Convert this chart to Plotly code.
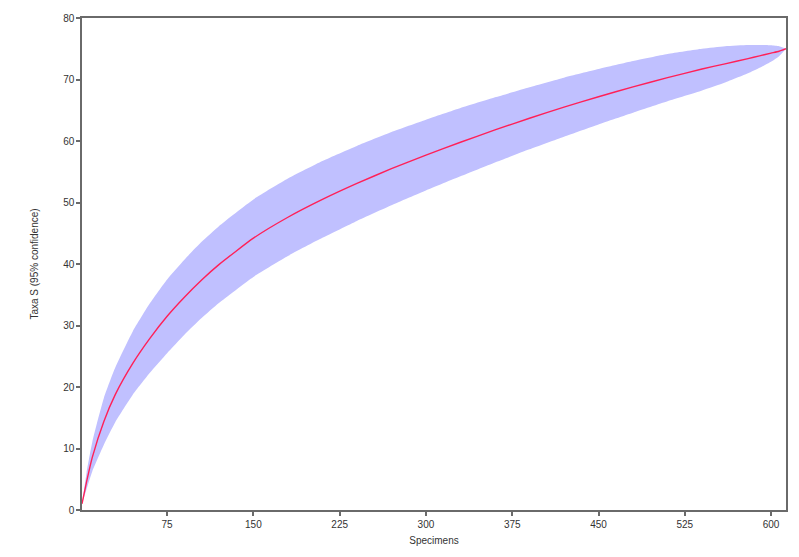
import plotly.graph_objects as go

specimens = [1, 5, 10, 20, 30, 45, 60, 75, 90, 105, 120, 150, 180, 210, 240, 270,
             300, 330, 360, 390, 420, 450, 480, 510, 540, 560, 580, 590, 600, 607, 613]
taxa_mean = [1.0, 4.6, 8.6, 14.4, 18.8, 23.8, 27.9, 31.5, 34.6, 37.4, 39.9, 44.2,
             47.6, 50.5, 53.1, 55.5, 57.7, 59.8, 61.8, 63.7, 65.5, 67.2, 68.8,
             70.3, 71.7, 72.55, 73.4, 73.85, 74.3, 74.6, 75.0]
taxa_upper = [1.0, 6.1, 11.1, 18.2, 23.2, 29.0, 33.6, 37.5, 40.7, 43.6, 46.15, 50.5,
              53.9, 56.75, 59.2, 61.45, 63.45, 65.35, 67.1, 68.75, 70.3, 71.7, 73.0,
              74.15, 75.0, 75.4, 75.6, 75.6, 75.55, 75.4, 75.0]
taxa_lower = [1.0, 3.4, 6.3, 10.6, 14.3, 18.7, 22.3, 25.5, 28.5, 31.2, 33.65, 37.9,
              41.3, 44.25, 47.0, 49.55, 51.95, 54.25, 56.5, 58.65, 60.7, 62.7, 64.6,
              66.45, 68.2, 69.5, 71.0, 71.9, 72.9, 73.8, 75.0]
x_ticks = [75, 150, 225, 300, 375, 450, 525, 600]
y_ticks = [0, 10, 20, 30, 40, 50, 60, 70, 80]

FONT = "Liberation Sans, Arial, sans-serif"

fig = go.Figure()
fig.add_trace(go.Scatter(x=specimens, y=taxa_lower, mode="lines",
                         line=dict(width=0, shape="spline", smoothing=0.5, color="rgba(0,0,0,0)"),
                         showlegend=False, hoverinfo="skip"))
fig.add_trace(go.Scatter(x=specimens, y=taxa_upper, mode="lines",
                         line=dict(width=0, shape="spline", smoothing=0.5, color="rgba(0,0,0,0)"),
                         fill="tonexty", fillcolor="#c0c0ff",
                         showlegend=False, hoverinfo="skip"))
fig.add_trace(go.Scatter(x=specimens, y=taxa_mean, mode="lines",
                         line=dict(width=1.4, color="#ff2058", shape="spline", smoothing=0.5),
                         showlegend=False))

axis_common = dict(showline=True, mirror=True, linecolor="#6a6a6a", linewidth=1.5,
                   ticks="outside", ticklen=4, tickcolor="#6a6a6a", tickwidth=1.5,
                   showgrid=False, zeroline=False,
                   tickfont=dict(family=FONT, size=10, color="#333"))

fig.update_xaxes(range=[1, 613], tickvals=x_ticks,
                 title=dict(text="Specimens", standoff=8,
                            font=dict(family=FONT, size=10, color="#333")),
                 **axis_common)
fig.update_yaxes(range=[0, 80], tickvals=y_ticks,
                 title=dict(text="Taxa S (95% confidence)", standoff=23,
                            font=dict(family=FONT, size=10, color="#333")),
                 **axis_common)

fig.update_layout(width=799, height=557, margin=dict(l=82, r=13, t=18, b=47),
                  plot_bgcolor="white", paper_bgcolor="white")

fig.write_html("out.html")
